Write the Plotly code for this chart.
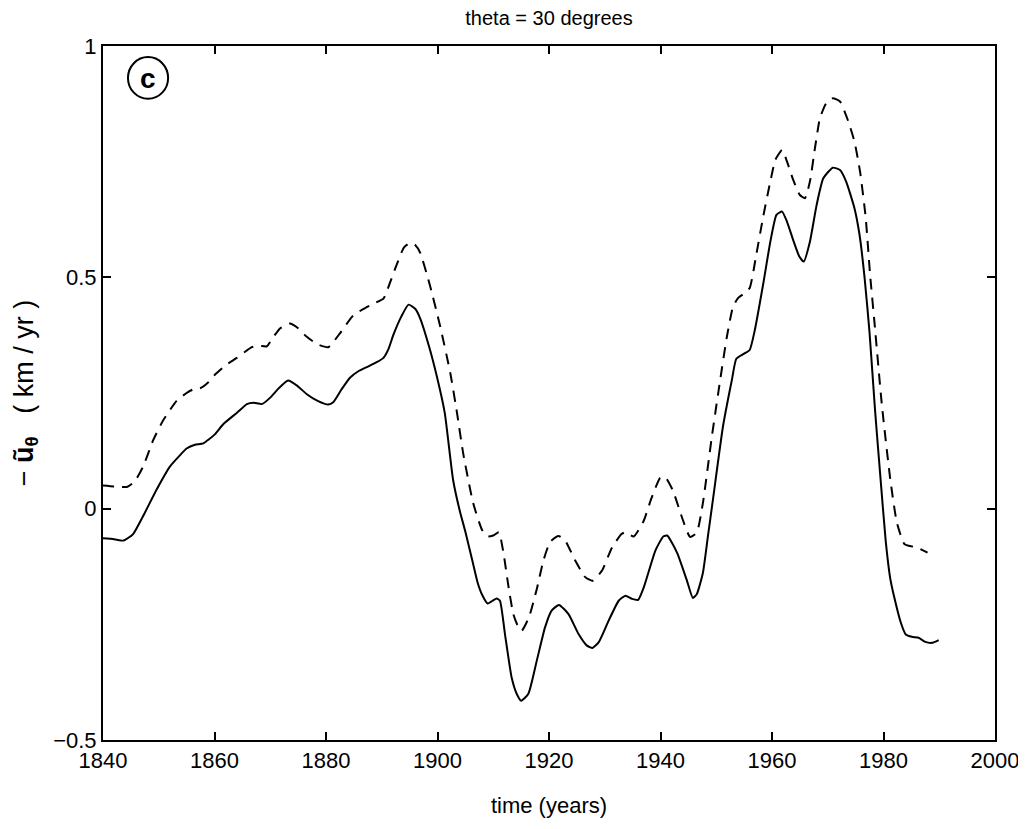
import plotly.graph_objects as go

# solid curve
solid_years = [1840, 1842, 1843.7, 1845.4, 1847.2, 1849.6, 1852, 1854, 1855, 1856.5, 1858,
               1860, 1861.6, 1864, 1865.8, 1867, 1868.5, 1870, 1871.5, 1873.2, 1874.8, 1876.5,
               1878.5, 1880.4, 1881.3, 1882.8, 1884.3, 1885.8, 1887.3, 1889, 1890.3, 1891.2,
               1892.1, 1893.5, 1894.8, 1896, 1896.9, 1898.5, 1899.9, 1901.3, 1902.8, 1904,
               1905, 1906.2, 1907.2, 1908, 1909, 1910, 1910.6, 1911.2, 1912.1, 1913.3, 1914.2,
               1915, 1916.3, 1917.8, 1919.3, 1920.5, 1921.8, 1923.5, 1925.3, 1926.8, 1927.8,
               1928.9, 1930.7, 1932.5, 1933.7, 1934.9, 1936, 1937, 1939.1, 1940.5, 1941.2,
               1943, 1944.7, 1945.8, 1946.5, 1947.6, 1948.5, 1949.4, 1951.2, 1952.8, 1953.6,
               1955, 1956, 1956.9, 1958.5, 1959.7, 1960.8, 1961.8, 1962.7, 1963.9, 1964.9,
               1965.7, 1966.8, 1968, 1969.2, 1970.9, 1972.2, 1973.3, 1974.8, 1975.7, 1976.6,
               1977.5, 1978.5, 1979.5, 1980.4, 1981.2, 1981.9, 1983.1, 1984, 1985.1, 1986.3,
               1987.5, 1988.7, 1989.9]
solid_values = [-0.064, -0.066, -0.069, -0.055, -0.016, 0.041, 0.091, 0.118, 0.130, 0.138, 0.141,
                0.160, 0.183, 0.207, 0.226, 0.229, 0.226, 0.240, 0.260, 0.277, 0.266, 0.248,
                0.233, 0.225, 0.230, 0.258, 0.283, 0.297, 0.306, 0.316, 0.326, 0.345,
                0.376, 0.415, 0.441, 0.432, 0.411, 0.350, 0.285, 0.207, 0.062, -0.005,
                -0.050, -0.110, -0.160, -0.186, -0.205, -0.198, -0.194, -0.199, -0.271, -0.365, -0.400,
                -0.415, -0.400, -0.329, -0.256, -0.220, -0.208, -0.228, -0.271, -0.296, -0.301,
                -0.289, -0.242, -0.199, -0.188, -0.195, -0.197, -0.170, -0.090, -0.060, -0.058,
                -0.096, -0.154, -0.193, -0.185, -0.139, -0.060, 0.019, 0.177, 0.278, 0.324,
                0.335, 0.343, 0.385, 0.491, 0.577, 0.635, 0.642, 0.620, 0.577, 0.545,
                0.534, 0.577, 0.656, 0.714, 0.737, 0.732, 0.707, 0.649, 0.592, 0.500,
                0.380, 0.210, 0.060, -0.070, -0.150, -0.190, -0.246, -0.272, -0.277, -0.279,
                -0.288, -0.290, -0.284]

# dashed curve
dashed_years = [1840, 1842, 1844.3, 1845.7, 1847.2, 1849, 1850.8, 1853.2, 1855, 1856.2, 1857.4,
                1858.8, 1860.1, 1862, 1864, 1866.7, 1868, 1869.4, 1870.5, 1871.8, 1873.5, 1875,
                1876.5, 1878.5, 1880.4, 1882.5, 1884.9, 1886.5, 1888.5, 1890.3, 1891.5, 1892.7,
                1894, 1895.2, 1896, 1896.9, 1898.7, 1900.5, 1902.3, 1903.5, 1904.6, 1906.4,
                1908, 1909, 1910, 1911, 1911.8, 1912.7, 1913.6, 1914.5, 1915.1, 1916.4, 1917.8,
                1919, 1920.2, 1921.7, 1922.9, 1924.7, 1926.5, 1927.8, 1929.5, 1931.3, 1933,
                1933.7, 1935.2, 1937, 1938.3, 1939.9, 1940.8, 1942.2, 1944, 1945.3, 1946.5,
                1947.6, 1949.2, 1950.7, 1951.9, 1953, 1953.9, 1955, 1956, 1957.2, 1958.4,
                1959.7, 1960.6, 1961.8, 1962.7, 1963.7, 1965, 1965.9, 1966.8, 1967.7, 1968.6,
                1969.7, 1970.9, 1972.2, 1973.6, 1974.8, 1975.8, 1976.8, 1977.6, 1978.4, 1979.7,
                1981.2, 1982.4, 1983.8, 1986, 1987.9]
dashed_values = [0.050, 0.048, 0.047, 0.059, 0.091, 0.148, 0.191, 0.233, 0.250, 0.258, 0.260,
                 0.272, 0.290, 0.310, 0.326, 0.349, 0.352, 0.351, 0.370, 0.390, 0.400, 0.390,
                 0.372, 0.355, 0.349, 0.379, 0.418, 0.430, 0.443, 0.454, 0.489, 0.528,
                 0.565, 0.575, 0.570, 0.553, 0.480, 0.393, 0.293, 0.207, 0.120, 0.012,
                 -0.046, -0.060, -0.058, -0.051, -0.093, -0.166, -0.228, -0.256, -0.264, -0.235, -0.174,
                 -0.112, -0.072, -0.059, -0.069, -0.112, -0.148, -0.156, -0.134, -0.084, -0.055,
                 -0.051, -0.060, -0.026, 0.020, 0.066, 0.069, 0.040, -0.024, -0.061, -0.052,
                 0.012, 0.155, 0.278, 0.371, 0.436, 0.455, 0.465, 0.477, 0.550, 0.630,
                 0.707, 0.754, 0.775, 0.750, 0.714, 0.678, 0.671, 0.707, 0.779, 0.844,
                 0.876, 0.887, 0.880, 0.840, 0.793, 0.728, 0.630, 0.505, 0.400, 0.225,
                 0.065, -0.030, -0.077, -0.084, -0.095]

x_ticks = [1840, 1860, 1880, 1900, 1920, 1940, 1960, 1980, 2000]
y_ticks = [-0.5, 0, 0.5, 1]
y_tick_labels = ["\u22120.5", "0", "0.5", "1"]

FONT = "Liberation Sans, Arial, sans-serif"
W, H = 1010, 821
NB = "\u00a0"

fig = go.Figure()
fig.add_trace(go.Scatter(x=solid_years, y=solid_values, mode="lines",
                         line=dict(color="black", width=2, shape="spline", smoothing=0.5),
                         showlegend=False, hoverinfo="skip"))
fig.add_trace(go.Scatter(x=dashed_years, y=dashed_values, mode="lines",
                         line=dict(color="black", width=2, dash="11px,8px", shape="spline", smoothing=0.5),
                         showlegend=False, hoverinfo="skip"))

y_title = ("\u2212" + NB + "<b>\u0169<sub>\u03b8</sub></b>" + NB * 3 + "(" + NB + "km" + NB + "/"
           + NB + "yr" + NB + ")")

fig.update_layout(
    width=W, height=H,
    margin=dict(l=95, r=23, t=38, b=89),
    paper_bgcolor="white", plot_bgcolor="white",
    font=dict(family=FONT, color="black", size=22),
    title=dict(text="theta = 30 degrees", x=0.5, xanchor="center", xref="paper",
               y=1 - 10 / H, yanchor="middle", font=dict(size=20, family=FONT)),
    xaxis=dict(range=[1840, 2000], tickvals=x_ticks, ticks="inside", ticklen=8, tickwidth=1.5,
               tickcolor="black", showline=True, linecolor="black", linewidth=2, mirror="ticks",
               showgrid=False, zeroline=False, tickfont=dict(size=22), ticklabeloverflow="allow",
               automargin=False,
               title=dict(text="time (years)", font=dict(size=22), standoff=25)),
    yaxis=dict(range=[-0.5, 1], tickvals=y_ticks, ticktext=y_tick_labels, ticks="inside",
               ticklen=8, tickwidth=1.5, tickcolor="black", showline=True, linecolor="black",
               linewidth=2, mirror="ticks", showgrid=False, zeroline=False, tickfont=dict(size=22),
               ticklabeloverflow="allow", automargin=False,
               title=dict(text=y_title, font=dict(size=27), standoff=12)),
)

# circled panel label "c"
fig.add_shape(type="circle", xref="paper", yref="paper",
              x0=0.028, x1=0.073, y0=0.924, y1=0.984,
              line=dict(color="black", width=2))
fig.add_annotation(xref="paper", yref="paper", x=0.0505, y=0.953, text="<b>c</b>",
                   showarrow=False, font=dict(size=28, family=FONT), xanchor="center", yanchor="middle")

fig.write_html("out.html")
